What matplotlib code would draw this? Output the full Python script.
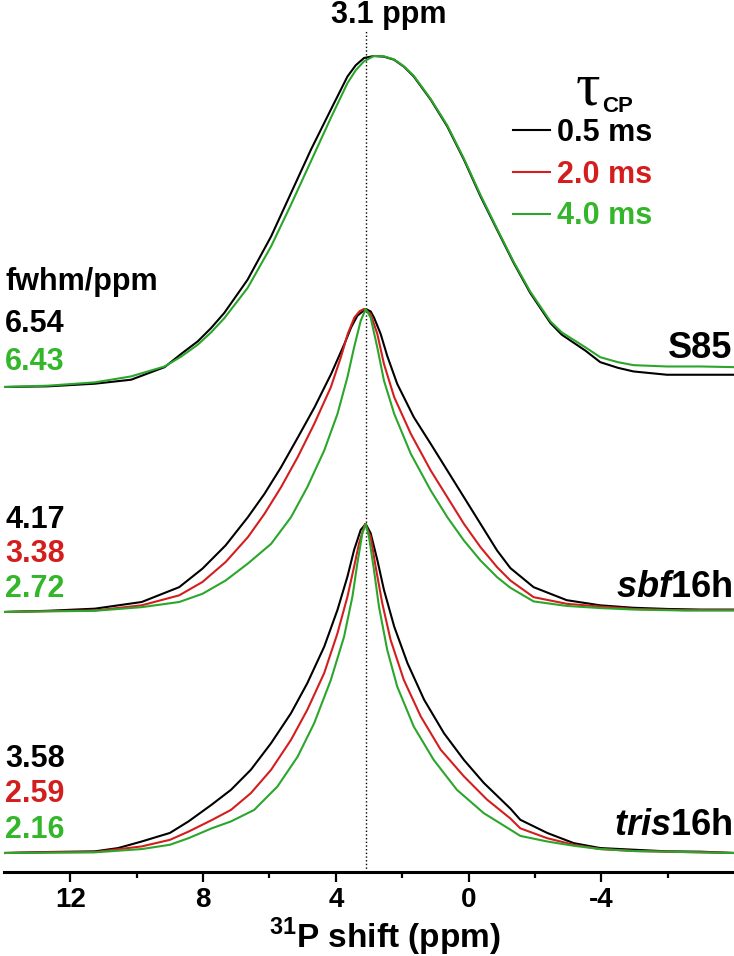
import matplotlib
matplotlib.use('Agg')
import matplotlib.pyplot as plt
from matplotlib.ticker import FixedLocator

plt.rcParams['font.family'] = ['Liberation Sans', 'DejaVu Sans']
plt.rcParams['font.weight'] = 'bold'
plt.rcParams['axes.unicode_minus'] = False
plt.rcParams['mathtext.fontset'] = 'custom'
plt.rcParams['mathtext.bf'] = 'Liberation Sans:bold'
plt.rcParams['mathtext.bfit'] = 'Liberation Sans:italic:bold'
plt.rcParams['mathtext.rm'] = 'Liberation Sans:bold'

# 31P CP-MAS spectra, normalised intensity (peak = 1)
S85_05_ppm = [14.0, 12.67, 11.26, 10.17, 9.16, 8.66, 8.16, 7.76, 7.36, 6.66, 5.95, 5.35, 4.75,
              4.15, 3.65, 3.40, 3.15, 2.85, 2.55, 2.25, 1.95, 1.65, 1.14, 0.64, 0.14, -0.36,
              -0.86, -1.36, -1.86, -2.47, -2.81, -3.52, -3.97, -4.5, -4.97, -5.98, -7.0, -8.0]
S85_05_int = [0.0, 0.002, 0.010, 0.022, 0.060, 0.100, 0.138, 0.178, 0.224, 0.324, 0.455, 0.586,
              0.717, 0.838, 0.938, 0.972, 0.994, 1.0, 0.998, 0.989, 0.968, 0.938, 0.868, 0.787,
              0.687, 0.576, 0.475, 0.375, 0.284, 0.193, 0.158, 0.110, 0.075, 0.058, 0.047,
              0.037, 0.037, 0.037]
S85_40_ppm = S85_05_ppm
S85_40_int = [0.0, 0.004, 0.014, 0.032, 0.062, 0.092, 0.128, 0.165, 0.208, 0.299, 0.425, 0.551,
              0.682, 0.813, 0.918, 0.957, 0.984, 1.0, 0.999, 0.990, 0.969, 0.940, 0.870, 0.790,
              0.690, 0.580, 0.478, 0.378, 0.288, 0.198, 0.165, 0.120, 0.090, 0.075, 0.066,
              0.062, 0.062, 0.060]

sbf_05_ppm = [14.0, 12.67, 11.26, 9.85, 8.72, 8.02, 7.32, 6.65, 6.15, 5.65, 5.14, 4.64, 4.14,
              3.74, 3.54, 3.35, 3.10, 2.95, 2.85, 2.65, 2.45, 2.15, 1.65, 1.14, 0.64, 0.14,
              -0.36, -0.86, -1.26, -1.96, -2.96, -3.97, -4.96, -6.0, -7.0, -8.0]
sbf_05_int = [0.0, 0.004, 0.011, 0.033, 0.082, 0.143, 0.220, 0.313, 0.390, 0.478, 0.577, 0.676,
              0.786, 0.885, 0.939, 0.978, 1.0, 0.992, 0.972, 0.918, 0.845, 0.753, 0.643, 0.555,
              0.467, 0.379, 0.291, 0.203, 0.145, 0.082, 0.039, 0.022, 0.014, 0.010, 0.008,
              0.008]
sbf_20_ppm = [14.0, 12.67, 11.26, 9.85, 8.72, 8.02, 7.32, 6.65, 6.15, 5.65, 5.15, 4.65, 4.15,
              3.85, 3.64, 3.44, 3.28, 3.15, 2.95, 2.75, 2.55, 2.24, 1.74, 1.14, 0.64, 0.14,
              -0.36, -0.86, -1.26, -1.96, -2.96, -3.97, -5.0, -6.5, -8.0]
sbf_20_int = [0.0, 0.003, 0.005, 0.022, 0.055, 0.099, 0.165, 0.247, 0.324, 0.412, 0.511, 0.621,
              0.742, 0.840, 0.918, 0.972, 0.993, 1.0, 0.983, 0.918, 0.819, 0.709, 0.588, 0.467,
              0.379, 0.291, 0.214, 0.148, 0.104, 0.049, 0.027, 0.018, 0.010, 0.006, 0.006]
sbf_40_ppm = [14.0, 12.67, 11.26, 9.85, 8.72, 8.02, 7.32, 6.65, 5.95, 5.35, 4.86, 4.35, 3.95,
              3.65, 3.45, 3.25, 3.10, 2.95, 2.75, 2.55, 2.24, 1.74, 1.14, 0.64, 0.14, -0.36,
              -0.86, -1.26, -1.96, -2.96, -3.97, -5.0, -6.5, -8.0]
sbf_40_int = [0.0, 0.002, 0.004, 0.016, 0.033, 0.060, 0.104, 0.160, 0.225, 0.313, 0.412, 0.533,
              0.654, 0.775, 0.873, 0.961, 1.0, 0.972, 0.873, 0.764, 0.654, 0.522, 0.401, 0.313,
              0.236, 0.170, 0.115, 0.080, 0.035, 0.020, 0.013, 0.008, 0.005, 0.005]

tris_05_ppm = [14.0, 12.67, 11.26, 10.56, 9.85, 9.0, 8.44, 7.74, 7.16, 6.56, 5.95, 5.35, 4.86,
               4.35, 3.95, 3.65, 3.45, 3.25, 3.10, 2.95, 2.75, 2.55, 2.24, 1.84, 1.34, 0.74,
               0.14, -0.46, -1.26, -1.56, -2.37, -3.17, -3.97, -4.97, -5.98, -7.0, -8.0]
tris_05_int = [0.0, 0.003, 0.005, 0.015, 0.035, 0.061, 0.096, 0.147, 0.192, 0.253, 0.334, 0.425,
               0.516, 0.627, 0.739, 0.840, 0.921, 0.982, 1.0, 0.972, 0.891, 0.800, 0.688, 0.577,
               0.466, 0.364, 0.283, 0.213, 0.135, 0.101, 0.061, 0.030, 0.015, 0.010, 0.005,
               0.004, 0.0]
tris_20_ppm = [14.0, 12.67, 11.26, 9.85, 9.0, 8.44, 7.74, 7.16, 6.56, 5.95, 5.35, 4.86, 4.35,
               3.95, 3.65, 3.45, 3.30, 3.12, 2.95, 2.80, 2.60, 2.35, 1.95, 1.44, 0.84, 0.14,
               -0.56, -1.26, -1.56, -2.37, -3.17, -3.97, -5.0, -6.5, -8.0]
tris_20_int = [0.0, 0.002, 0.003, 0.020, 0.040, 0.065, 0.100, 0.131, 0.182, 0.253, 0.344, 0.435,
               0.547, 0.668, 0.779, 0.870, 0.941, 1.0, 0.961, 0.870, 0.759, 0.648, 0.526, 0.415,
               0.314, 0.233, 0.162, 0.105, 0.075, 0.045, 0.025, 0.012, 0.006, 0.003, 0.0]
tris_40_ppm = [14.0, 12.67, 11.26, 9.85, 9.0, 8.44, 7.74, 7.16, 6.46, 5.76, 5.15, 4.65, 4.15,
               3.75, 3.50, 3.35, 3.20, 3.10, 3.00, 2.85, 2.70, 2.45, 2.15, 1.65, 1.05, 0.35,
               -0.46, -1.26, -1.56, -2.37, -3.17, -3.97, -5.0, -6.5, -8.0]
tris_40_int = [0.0, 0.001, 0.002, 0.012, 0.025, 0.045, 0.075, 0.096, 0.131, 0.202, 0.293, 0.395,
               0.526, 0.658, 0.779, 0.881, 0.972, 1.0, 0.961, 0.860, 0.749, 0.617, 0.506, 0.384,
               0.283, 0.192, 0.121, 0.071, 0.052, 0.035, 0.022, 0.012, 0.006, 0.003, 0.0]

samples = ['S85', 'sbf16h', 'tris16h']
sample_labels = ['S85', r'$\mathbfit{sbf}$16h', r'$\mathbfit{tris}$16h']
times = ['0.5 ms', '2.0 ms', '4.0 ms']
fwhm = {'S85': ['6.54', None, '6.43'],
        'sbf16h': ['4.17', '3.38', '2.72'],
        'tris16h': ['3.58', '2.59', '2.16']}
spectra = {'S85': [(S85_05_ppm, S85_05_int), None, (S85_40_ppm, S85_40_int)],
           'sbf16h': [(sbf_05_ppm, sbf_05_int), (sbf_20_ppm, sbf_20_int), (sbf_40_ppm, sbf_40_int)],
           'tris16h': [(tris_05_ppm, tris_05_int), (tris_20_ppm, tris_20_int),
                       (tris_40_ppm, tris_40_int)]}
peak_pos = 3.1

# stacking (baseline offset and peak height, in pixel-like units)
base = {'S85': 485, 'sbf16h': 260, 'tris16h': 19}
height = {'S85': 331, 'sbf16h': 303, 'tris16h': 329}
colors = ['#000000', '#d41e1e', '#2ba62b']
text_colors = ['#000000', '#d41e1e', '#33b62a']

W, H = 734, 956
fig = plt.figure(figsize=(W / 100, H / 100), dpi=100)
ax = fig.add_axes([4 / W, 84 / H, 730 / W, 872 / H])

handles = []
for s in samples:
    for i, sp in enumerate(spectra[s]):
        if sp is None:
            continue
        x, y = sp
        yy = [base[s] + height[s] * v for v in y]
        ln, = ax.plot(x, yy, color=colors[i], lw=1.5, zorder=2 + i)
        if s == 'tris16h':
            handles.append(ln)

ax.axvline(peak_pos, ymin=0, ymax=842 / 872, color='black', ls=':', lw=1.0, zorder=1)

ax.set_xlim(14.0, -8.0)
ax.set_ylim(0, 872)
for sp_name in ['top', 'left', 'right']:
    ax.spines[sp_name].set_visible(False)
ax.spines['bottom'].set_linewidth(2.2)
ax.set_yticks([])
ax.xaxis.set_major_locator(FixedLocator([12, 8, 4, 0, -4]))
ax.xaxis.set_minor_locator(FixedLocator([10, 6, 2, -2, -6]))
ax.tick_params(axis='x', which='major', direction='out', length=7, width=1.6,
               labelsize=20, pad=4)
ax.tick_params(axis='x', which='minor', direction='out', length=4, width=1.6)
ax.set_xlabel(r'$^{\mathbf{31}}$P shift (ppm)', fontsize=24, fontweight='bold')
ax.xaxis.set_label_coords(0.522, -0.05)

# annotations
fig.text(389 / W, 1 - 23 / H, '3.1 ppm', fontsize=22, ha='center', va='baseline')
fig.text(5 / W, 1 - 290 / H, 'fwhm/ppm', fontsize=22, ha='left', va='baseline')
fwhm_rows = {'S85': [332, None, 370], 'sbf16h': [528, 562, 597], 'tris16h': [767, 802, 838]}
for s in samples:
    for i, val in enumerate(fwhm[s]):
        if val is None:
            continue
        fig.text(5 / W, 1 - fwhm_rows[s][i] / H, val, fontsize=22, color=text_colors[i],
                 ha='left', va='baseline')

name_rows = {'S85': 358, 'sbf16h': 597, 'tris16h': 835}
for s, lab in zip(samples, sample_labels):
    fig.text(732 / W, 1 - name_rows[s] / H, lab, fontsize=26, ha='right', va='baseline')

fig.text(576 / W, 1 - 105 / H, '\u03c4', fontsize=44, family='Liberation Serif',
         fontweight='normal', ha='left', va='baseline')
fig.text(602 / W, 1 - 112 / H, 'CP', fontsize=16, ha='left', va='baseline')
leg = ax.legend(handles, times, loc='upper left', bbox_to_anchor=(513 / W, 1 - 118 / H),
                bbox_transform=fig.transFigure, frameon=False, fontsize=22,
                handlelength=1.2, handletextpad=0.25, labelspacing=0.38, borderpad=0,
                borderaxespad=0, labelcolor=text_colors)

fig.savefig('out.png', dpi=100)
